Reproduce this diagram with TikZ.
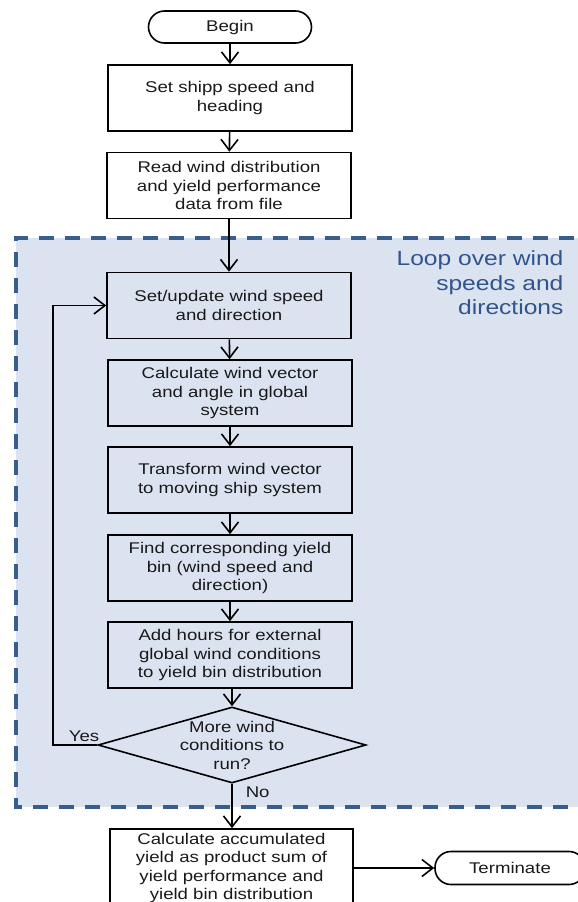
\documentclass[tikz,border=0pt]{standalone}
\usepackage{fontspec}
\setmainfont{Liberation Sans}[FakeStretch=1.2]
\usetikzlibrary{shapes.geometric, arrows.meta}
\definecolor{loopfill}{RGB}{220,227,240}
\definecolor{loopline}{RGB}{58,94,140}
\definecolor{looptext}{RGB}{47,85,140}
\definecolor{txt}{RGB}{25,25,25}

\begin{document}
\begin{tikzpicture}[x=1pt, y=-1pt]

\tikzset{box/.style = {shape=rectangle, draw, line width=1.6pt, minimum width=244pt, minimum height=66pt, inner sep=1pt, align=center, text=txt, font=\fontsize{15.5}{18.5}\selectfont}}
\tikzset{terminal/.style = {box, rounded corners=16pt, minimum width=163pt, minimum height=32pt}}
\tikzset{decision/.style = {shape=diamond, draw, line width=1.6pt, minimum width=268pt, minimum height=76pt, inner sep=0pt}}
\tikzset{edge/.style = {-{Straight Barb[length=11pt, width=17pt, line width=1.6pt]}, line width=1.6pt}}
\tikzset{lbl/.style = {text=txt, inner sep=1pt, font=\fontsize{15.5}{18.5}\selectfont}}

\useasboundingbox (0,0) rectangle (578,902);
\clip (0,0) rectangle (578,902);

%loop area
\fill [loopfill] (16,238) rectangle (600,807);
\draw [loopline, line width=3.5pt, dash pattern=on 15pt off 11pt] (600,238) -- (16,238) -- (16,807) -- (600,807);
\node [align=right, anchor=east, text=looptext, font=\fontsize{20.5}{24.5}\selectfont] (looplbl) at (567,283) {Loop over wind\\speeds and\\directions};

%steps
\node[terminal] (begin) at (230,27) {Begin};
\node[box] (speed) at (230,98) {Set shipp speed and\\heading};
\node[box] (read) at (229,185.5) {Read wind distribution\\and yield performance\\data from file};
\node[box] (upd) at (229,305.5) {Set/update wind speed\\and direction};
\node[box] (vec) at (230,393) {Calculate wind vector\\and angle in global\\system};
\node[box] (trans) at (230,480) {Transform wind vector\\to moving ship system};
\node[box] (bin) at (230,568) {Find corresponding yield\\bin (wind speed and\\direction)};
\node[box] (hours) at (230,655) {Add hours for external\\global wind conditions\\to yield bin distribution};
\node[decision, label={[lbl, align=center]center:More wind\\conditions to\\run?}] (more) at (232,745) {};
\node[box, minimum width=243pt, minimum height=78pt] (calc) at (231.5,868) {Calculate accumulated\\yield as product sum of\\yield performance and\\yield bin distribution};
\node[terminal, minimum width=150pt, minimum height=33pt] (term) at (510,868) {Terminate};

\draw [edge] (begin) -- (speed);
\draw [edge] (speed) -- (read);
\draw [edge] (read) -- (upd);
\draw [edge] (upd) -- (vec);
\draw [edge] (vec) -- (trans);
\draw [edge] (trans) -- (bin);
\draw [edge] (bin) -- (hours);
\draw [edge] (hours.south -| more.north) -- (more.north);
\draw [edge] (more.south) -- node [lbl, right=12pt, pos=0.2] {No} (more.south |- calc.north);
\draw [edge] (more.west) -- node [lbl, above=2pt, pos=0.3] {Yes} ++(-44,0) |- (upd.west);
\draw [edge] (calc) -- (term);

\end{tikzpicture}
\end{document}
